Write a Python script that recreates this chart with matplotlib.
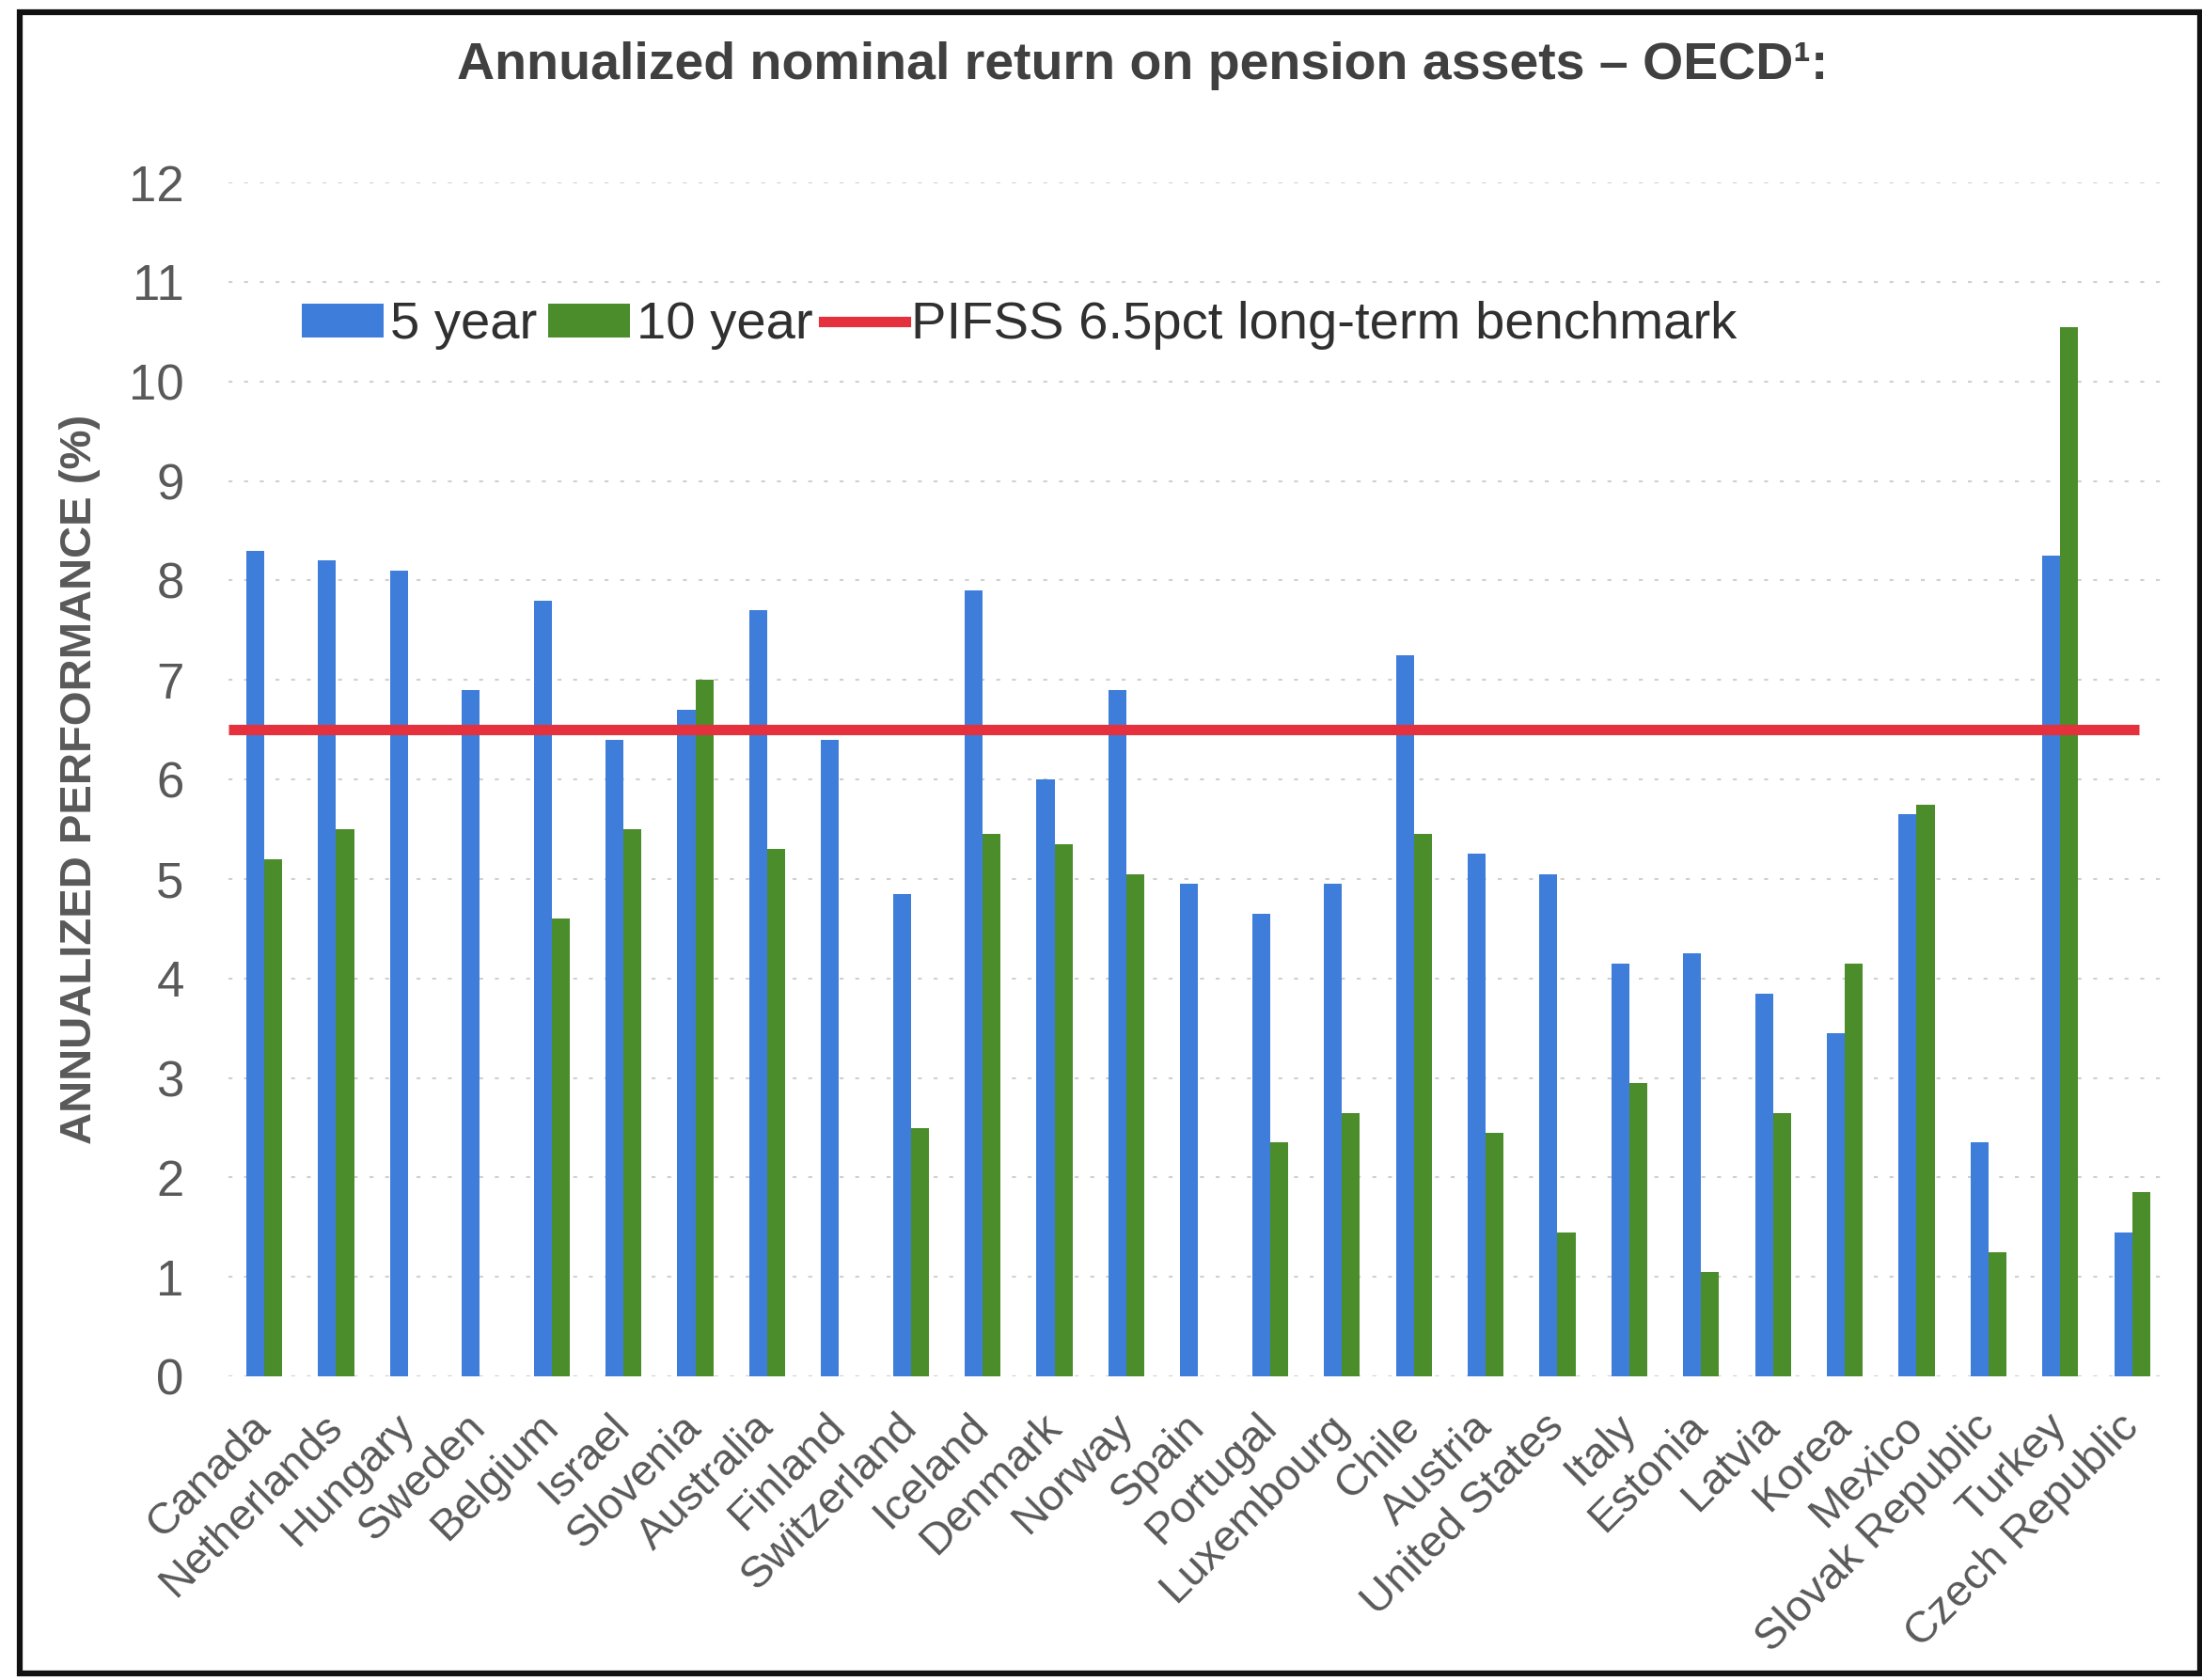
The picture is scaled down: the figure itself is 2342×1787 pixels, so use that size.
import matplotlib
matplotlib.use("Agg")
import matplotlib.pyplot as plt
import numpy as np
from matplotlib.patches import Rectangle, Patch
from matplotlib.lines import Line2D

plt.rcParams['font.family'] = ['Liberation Sans', 'DejaVu Sans']

countries = ["Canada", "Netherlands", "Hungary", "Sweden", "Belgium", "Israel",
             "Slovenia", "Australia", "Finland", "Switzerland", "Iceland", "Denmark",
             "Norway", "Spain", "Portugal", "Luxembourg", "Chile", "Austria",
             "United States", "Italy", "Estonia", "Latvia", "Korea", "Mexico",
             "Slovak Republic", "Turkey", "Czech Republic"]
five_year = [8.3, 8.2, 8.1, 6.9, 7.8, 6.4, 6.7, 7.7, 6.4, 4.85, 7.9, 6.0,
             6.9, 4.95, 4.65, 4.95, 7.25, 5.25, 5.05, 4.15, 4.25, 3.85, 3.45, 5.65,
             2.35, 8.25, 1.45]
ten_year = [5.2, 5.5, 0, 0, 4.6, 5.5, 7.0, 5.3, 0, 2.5, 5.45, 5.35,
            5.05, 0, 2.35, 2.65, 5.45, 2.45, 1.45, 2.95, 1.05, 2.65, 4.15, 5.75,
            1.25, 10.55, 1.85]
benchmark = 6.5
yticks = list(range(0, 13))

title = "Annualized nominal return on pension assets \u2013 OECD\u00b9:"
ylabel = "ANNUALIZED PERFORMANCE (%)"
legend_labels = ["5 year", "10 year", "PIFSS 6.5pct long-term benchmark"]

BLUE = '#3f7ddb'
GREEN = '#4b8d2a'
RED = '#e5303d'
GRAY = '#595959'

fig = plt.figure(figsize=(23.42, 17.87), dpi=100)
ax = fig.add_axes([0.1037, 0.1807, 0.8809, 0.7107])

n = len(countries)
x = np.arange(n)
w = 0.25
ax.bar(x - w / 2, five_year, width=w, color=BLUE, zorder=3)
ax.bar(x + w / 2, ten_year, width=w, color=GREEN, zorder=3)
ax.plot([-0.5, n - 0.9], [benchmark, benchmark], color=RED, lw=8, zorder=4,
        solid_capstyle='butt')

ax.set_xlim(-0.5, n - 0.5)
ax.set_ylim(0, 12)
ax.set_yticks(yticks)
ax.set_yticklabels([str(t) for t in yticks], fontsize=38, color=GRAY)
ax.tick_params(axis='y', length=0, pad=34)
ax.set_xticks(x)
ax.set_xticklabels(countries, rotation=45, ha='right', va='center',
                   rotation_mode='anchor', fontsize=34, color=GRAY)
ax.tick_params(axis='x', length=0, pad=34)

for s in ax.spines.values():
    s.set_visible(False)
ax.grid(axis='y', color='#d0d0d0', linestyle=(0, (2, 6)), lw=1.5, zorder=0)

ax.set_ylabel(ylabel, fontsize=34, fontweight='bold', color=GRAY)
ax.yaxis.set_label_coords(-0.066, 0.5)

handles = [Patch(facecolor=BLUE), Patch(facecolor=GREEN),
           Line2D([0], [0], color=RED, lw=8)]
ax.legend(handles, legend_labels, ncol=3, loc='center left',
          bbox_to_anchor=(0.038, 0.88), frameon=False, fontsize=40.5,
          handlelength=1.55, handleheight=0.6, handletextpad=0.12,
          columnspacing=0.2, borderpad=0, borderaxespad=0, labelcolor='#303030')

fig.text(0.519, 0.961, title, ha='center', va='center', fontsize=40,
         fontweight='bold', color='#404040')

fig.patches.append(Rectangle((0.009, 0.004), 0.99, 0.989, transform=fig.transFigure,
                             fill=False, edgecolor='#111111', lw=4.5))

fig.savefig("out.png", dpi=100)
